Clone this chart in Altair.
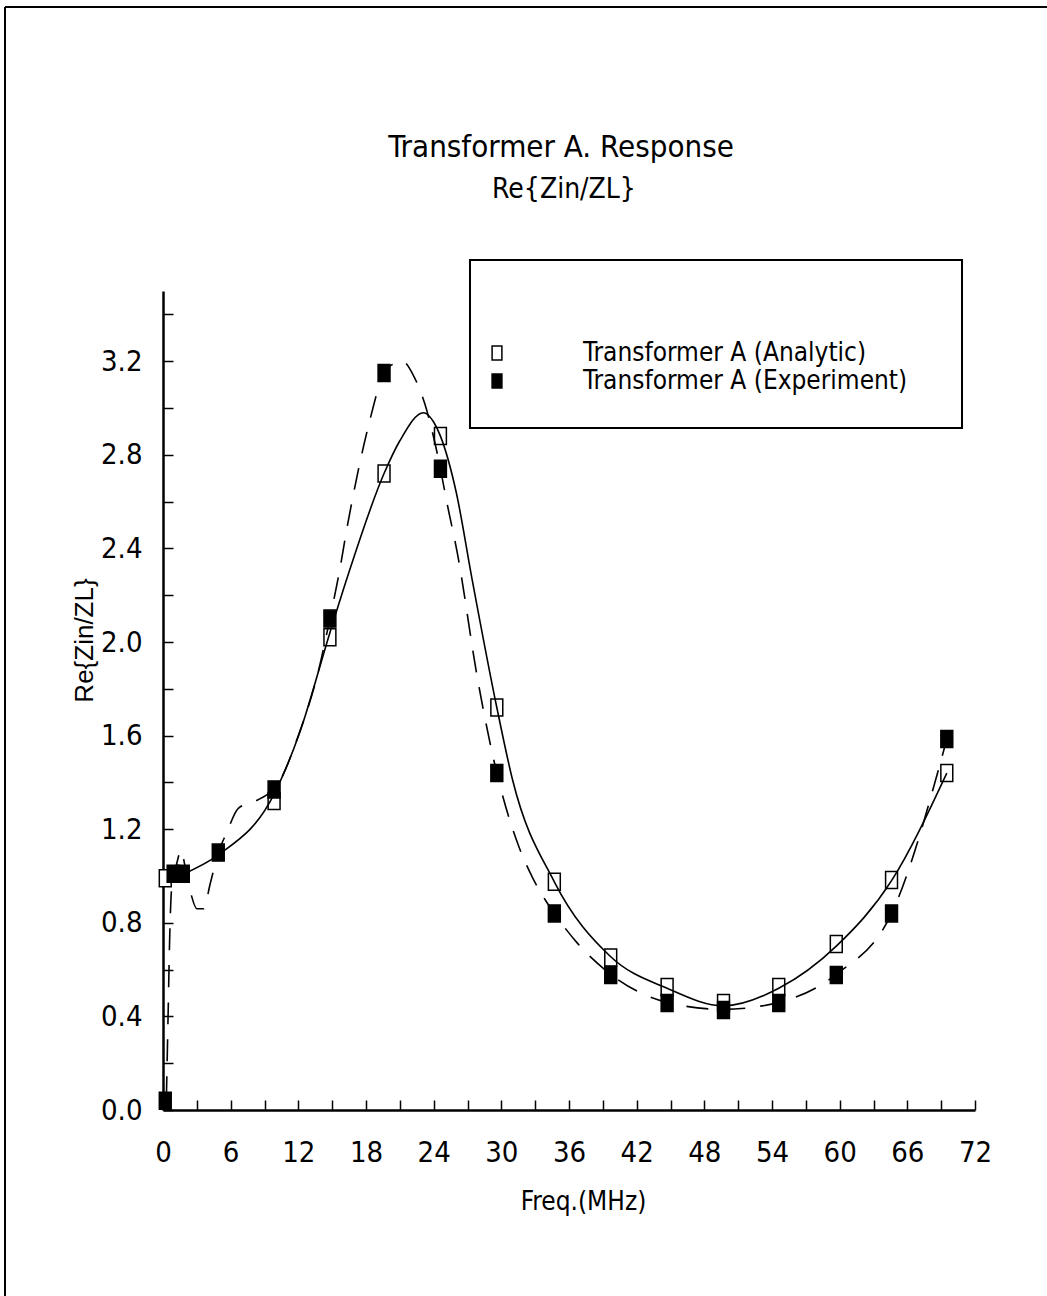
import altair as alt
import pandas as pd

FONT = "DejaVu Sans Condensed, Liberation Sans Narrow, Liberation Sans, sans-serif"

series_names = ["Transformer A (Analytic)", "Transformer A (Experiment)"]
title_text = "Transformer A. Response"
subtitle_text = "Re{Zin/ZL}"

# Analytic markers (open squares)
analytic_x = [0.2, 9.85, 14.8, 19.6, 24.6, 29.6, 34.7, 39.7, 44.7, 49.7, 54.6, 59.7, 64.6, 69.5]
analytic_y = [0.99, 1.32, 2.02, 2.72, 2.88, 1.72, 0.975, 0.652, 0.526, 0.457, 0.526, 0.709, 0.983, 1.44]

# Experiment markers (filled squares)
exp_x = [0.2, 0.9, 1.8, 4.9, 9.85, 14.8, 19.6, 24.6, 29.6, 34.7, 39.7, 44.7, 49.7, 54.6, 59.7, 64.6, 69.5]
exp_y = [0.04, 1.01, 1.01, 1.10, 1.37, 2.10, 3.15, 2.74, 1.44, 0.84, 0.577, 0.457, 0.427, 0.457, 0.577, 0.84, 1.585]

# Solid (analytic) curve
solid_x = [1.9, 4.9, 9.85, 12.1, 14.8, 16.3, 19.6, 21.0, 23.1, 24.0, 24.6, 26.0, 27.4, 29.6, 31.0,
           34.7, 39.7, 44.7, 49.7, 54.6, 59.7, 64.6, 69.5]
solid_y = [1.01, 1.09, 1.35, 1.61, 2.04, 2.27, 2.72, 2.86, 2.98, 2.94, 2.88, 2.64, 2.27, 1.72, 1.41,
           0.975, 0.655, 0.52, 0.445, 0.52, 0.70, 0.98, 1.44]

# Dashed (experiment) curve
dash_x = [0.3, 0.45, 0.6, 0.8, 1.2, 1.6, 2.0, 2.5, 3.0, 3.6, 4.2, 4.9, 5.6, 6.7, 8.2, 9.3, 9.85,
          12.0, 13.9, 14.8, 15.6, 16.4, 17.3, 18.3, 19.6, 20.5, 21.2, 22.3, 23.2, 24.3, 24.6,
          25.2, 26.1, 27.9, 29.6, 31.6, 32.8, 34.0, 34.7, 36.8, 39.7, 44.7, 49.7, 54.6, 59.7,
          64.6, 69.5]
dash_y = [0.05, 0.4, 0.75, 0.97, 1.05, 1.11, 1.03, 0.92, 0.86, 0.86, 0.97, 1.10, 1.18, 1.29, 1.32,
          1.35, 1.37, 1.6, 1.9, 2.10, 2.29, 2.51, 2.73, 2.94, 3.15, 3.19, 3.2, 3.13, 3.02, 2.81,
          2.74, 2.59, 2.38, 1.84, 1.44, 1.12, 0.99, 0.89, 0.84, 0.71, 0.58, 0.46, 0.43, 0.46,
          0.58, 0.84, 1.585]

x_label_values = [0, 6, 12, 18, 24, 30, 36, 42, 48, 54, 60, 66, 72]
x_tick_values = [0, 3, 6, 9, 12, 15, 18, 21, 24, 27, 30, 33, 36, 39, 42, 45, 48, 51, 54, 57,
                 60, 63, 66, 69, 72]
y_label_values = [0.0, 0.4, 0.8, 1.2, 1.6, 2.0, 2.4, 2.8, 3.2]
y_tick_values = [0.0, 0.2, 0.4, 0.6, 0.8, 1.0, 1.2, 1.4, 1.6, 1.8, 2.0, 2.2, 2.4, 2.6, 2.8,
                 3.0, 3.2, 3.4]

pts = pd.DataFrame({
    "x": analytic_x + exp_x,
    "y": analytic_y + exp_y,
    "series": [series_names[0]] * len(analytic_x) + [series_names[1]] * len(exp_x),
})
solid = pd.DataFrame({"x": solid_x, "y": solid_y})
dashed = pd.DataFrame({"x": dash_x, "y": dash_y})
one = pd.DataFrame({"a": [0]})

W, H = 812, 819
xscale = alt.Scale(domain=[0, 72], nice=False, zero=False)
yscale = alt.Scale(domain=[0, 3.5], nice=False, zero=False)
RECT = "M-0.7,-1H0.7V1H-0.7Z"

points = alt.Chart(pts).mark_point(
    shape=RECT, size=289, filled=True, stroke="black", strokeWidth=1.5, opacity=1
).encode(
    x=alt.X("x:Q", scale=xscale, axis=alt.Axis(
        orient="top", offset=-H, values=x_tick_values, labels=False, domain=False,
        ticks=True, tickSize=10, tickWidth=1.5, tickColor="black", grid=False, title=None)),
    y=alt.Y("y:Q", scale=yscale, axis=alt.Axis(
        orient="right", offset=-W, values=y_tick_values, labels=False, domain=False,
        ticks=True, tickSize=10, tickWidth=1.5, tickColor="black", grid=False, title=None)),
    fill=alt.Fill("series:N", scale=alt.Scale(domain=series_names, range=["white", "black"]),
                  legend=alt.Legend(
                      orient="none", legendX=321, legendY=49, title=None,
                      symbolType=RECT, symbolSize=196, symbolStrokeColor="black",
                      symbolStrokeWidth=1.5, labelFont=FONT, labelFontSize=26,
                      labelColor="black", labelOffset=73, padding=0, rowPadding=2,
                      labelLimit=600)),
)

solid_line = alt.Chart(solid).mark_line(
    color="black", strokeWidth=1.6, interpolate="monotone"
).encode(
    x=alt.X("x:Q", scale=xscale, axis=alt.Axis(
        orient="bottom", values=x_label_values, ticks=False, domainWidth=2.5,
        domainColor="black", labelFont=FONT, labelFontSize=29, labelColor="black",
        labelPadding=28, labelFlush=False, labelOverlap=False, grid=False,
        title="Freq.(MHz)", titleFont=FONT, titleFontSize=26,
        titleFontWeight="normal", titleColor="black", titleX=420, titleY=104,
        titleBaseline="bottom")),
    y=alt.Y("y:Q", scale=yscale, axis=alt.Axis(
        orient="left", values=y_label_values, format=".1f", ticks=False, domainWidth=2.5,
        domainColor="black", labelFont=FONT, labelFontSize=29, labelColor="black",
        labelPadding=21, labelFlush=False, labelOverlap=False, grid=False,
        title="Re{Zin/ZL}", titleFont="Liberation Sans",
        titleFontSize=26, titleFontWeight="normal", titleColor="black", titleX=-79,
        titleY=349, titleAngle=270, titleAlign="center", titleBaseline="middle")),
)

dashed_line = alt.Chart(dashed).mark_line(
    color="black", strokeWidth=1.6, strokeDash=[22, 15], interpolate="monotone"
).encode(
    x=alt.X("x:Q", scale=xscale, axis=None),
    y=alt.Y("y:Q", scale=yscale, axis=None),
)

legend_box = alt.Chart(one).mark_rect(
    fill="white", fillOpacity=0, stroke="black", strokeWidth=2
).encode(
    x=alt.value(307), x2=alt.value(799), y=alt.value(-31), y2=alt.value(137)
)

title_mark = alt.Chart(one).mark_text(
    font=FONT, fontSize=31, color="black", align="center", baseline="middle"
).encode(text=alt.value(title_text), x=alt.value(398), y=alt.value(-143))

subtitle_mark = alt.Chart(one).mark_text(
    font=FONT, fontSize=28, color="black", align="center", baseline="middle"
).encode(text=alt.value(subtitle_text), x=alt.value(401), y=alt.value(-101))

frame_top = alt.Chart(one).mark_rule(color="black", strokeWidth=2).encode(
    x=alt.value(-158), x2=alt.value(884), y=alt.value(-284)
)
frame_left = alt.Chart(one).mark_rule(color="black", strokeWidth=2).encode(
    x=alt.value(-158), y=alt.value(-284), y2=alt.value(1005)
)

chart = alt.layer(
    legend_box, frame_top, frame_left, title_mark, subtitle_mark,
    points, solid_line, dashed_line
).resolve_axis(
    x="independent", y="independent"
).properties(
    width=W, height=H,
    autosize=alt.AutoSizeParams(type="none"),
    padding={"left": 163, "top": 291, "right": 72, "bottom": 186},
    background="white",
).configure_view(stroke=None)

chart.save("out.html", embed_options={"renderer": "svg", "actions": False})
